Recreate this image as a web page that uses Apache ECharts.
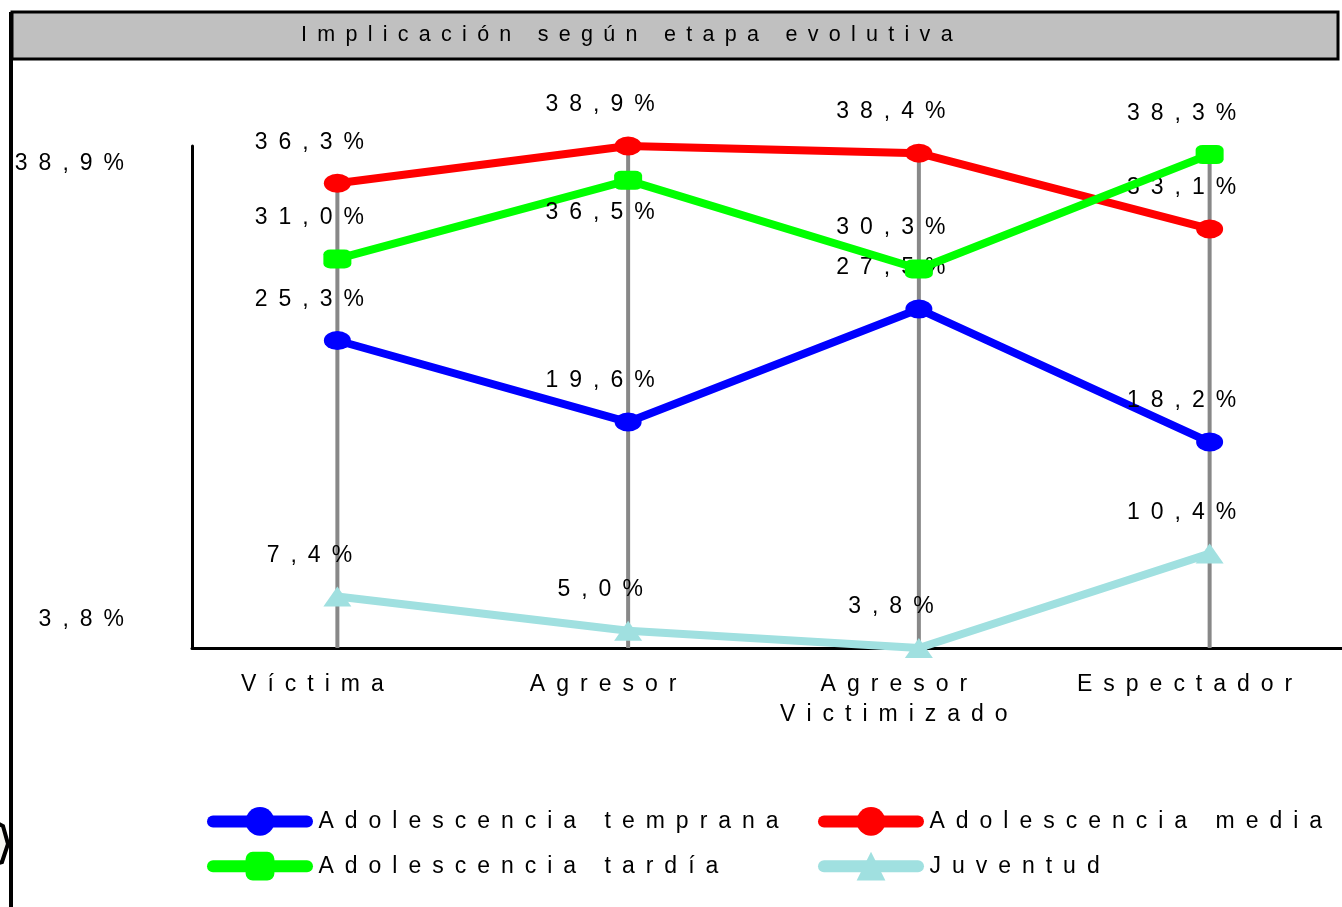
<!DOCTYPE html>
<html>
<head>
<meta charset="utf-8">
<script src="https://cdn.jsdelivr.net/npm/echarts@6/dist/echarts.min.js"></script>
<style>
  html, body { margin: 0; padding: 0; background: #fff; overflow: hidden; }
  #chart { width: 1355px; height: 907px; }
</style>
</head>
<body>
<div id="chart"></div>
<script>
// datos
var categories = ['Víctima', 'Agresor', 'Agresor\nVictimizado', 'Espectador']
var temprana = [25.3, 19.6, 27.5, 18.2]
var media = [36.3, 38.9, 38.4, 33.1]
var tardia = [31.0, 36.5, 30.3, 38.3]
var juventud = [7.4, 5.0, 3.8, 10.4]
var yTicks = [3.8, 38.9]

var FONT = "'Liberation Sans', Arial, sans-serif"

// texto espaciado como en el original
function sp(s) {
  return s.split('\n').map(function(line) {
    return line.split('').join(' \u2009')
  }).join('\n')
}
function pct(v) {
  return v.toFixed(1).replace('.', ',') + '%'
}

var yMin = yTicks[0]
var yMax = yTicks[yTicks.length - 1]

var dropData = categories.map(function(c, i) {
  return [i, Math.max(temprana[i], media[i], tardia[i], juventud[i])]
})

function lineSeries(name, data, color, symbol, size, z, labelOffsets) {
  return {
    name: name,
    type: 'line',
    data: data.map(function(v, i) {
      var item = { value: v }
      if (labelOffsets && labelOffsets[i]) {
        item.label = { offset: labelOffsets[i] }
      }
      return item
    }),
    z: z,
    symbol: symbol,
    symbolSize: size,
    showAllSymbol: true,
    lineStyle: { color: color, width: 8, cap: 'round' },
    itemStyle: { color: color, borderWidth: 0 },
    label: {
      show: true,
      position: 'inside',
      offset: [-28, -41],
      color: '#000',
      fontSize: 23,
      fontFamily: FONT,
      formatter: function(p) { return sp(pct(p.value)) }
    },
    emphasis: { disabled: true }
  }
}

function legendAt(names, left) {
  return {
    data: names,
    orient: 'vertical',
    left: left,
    top: 802,
    itemWidth: 94,
    itemHeight: 36,
    itemGap: 16,
    selectedMode: false,
    lineStyle: { width: 12, cap: 'round' },
    formatter: function(n) { return ' ' + sp(n) },
    textStyle: { fontSize: 23, color: '#000', fontFamily: FONT }
  }
}

var chart = echarts.init(document.getElementById('chart'))

var option = {
  animation: false,
  backgroundColor: '#fff',
  title: {
    text: sp('Implicación según etapa evolutiva'),
    left: 296,
    top: 19,
    textStyle: { fontSize: 21.5, fontWeight: 'normal', color: '#000', fontFamily: FONT }
  },
  graphic: [
    {
      type: 'rect',
      shape: { x: 12, y: 12, width: 1326, height: 47 },
      style: { fill: '#c0c0c0', stroke: '#000', lineWidth: 3 },
      z: -1
    },
    {
      type: 'line',
      shape: { x1: 11, y1: 12, x2: 11, y2: 907 },
      style: { stroke: '#000', lineWidth: 4 },
      z: 0
    },
    {
      type: 'polygon',
      shape: { points: [[-12, 818], [3, 826], [8, 844], [2, 862], [-12, 866]] },
      style: { fill: '#f4f4f0', stroke: '#000', lineWidth: 4 },
      z: 0
    }
  ],
  legend: [
    legendAt(['Adolescencia temprana', 'Adolescencia tardía'], 202),
    legendAt(['Adolescencia media', 'Juventud'], 813)
  ],
  grid: {
    left: 192,
    right: 0,
    top: 146,
    bottom: 259,
    containLabel: false
  },
  xAxis: {
    type: 'category',
    data: categories,
    boundaryGap: true,
    axisLine: { show: true, lineStyle: { color: '#000', width: 3 } },
    axisTick: { show: false },
    axisLabel: {
      margin: 22,
      fontSize: 23,
      lineHeight: 30,
      color: '#000',
      fontFamily: FONT,
      padding: [0, 50, 0, 0],
      interval: 0,
      formatter: function(v) { return sp(v) }
    },
    splitLine: { show: false }
  },
  yAxis: {
    type: 'value',
    min: yMin,
    max: yMax,
    axisLine: { show: true, lineStyle: { color: '#000', width: 3 } },
    axisTick: { show: false },
    splitLine: { show: false },
    axisLabel: {
      customValues: yTicks,
      margin: 68,
      color: '#000',
      fontSize: 23,
      fontFamily: FONT,
      formatter: function(v) {
        return v >= yMax ? '{hi|' + sp(pct(v)) + '}' : '{lo|' + sp(pct(v)) + '}'
      },
      rich: {
        hi: { fontSize: 23, fontFamily: FONT, color: '#000', padding: [36, 0, 0, 0] },
        lo: { fontSize: 23, fontFamily: FONT, color: '#000', padding: [0, 0, 56, 0] }
      }
    }
  },
  series: [
    {
      name: 'drop',
      type: 'custom',
      z: 1,
      silent: true,
      data: dropData,
      encode: { x: 0, y: 1 },
      renderItem: function(params, api) {
        var top = api.coord([api.value(0), api.value(1)])
        var bottom = api.coord([api.value(0), yMin])
        return {
          type: 'line',
          shape: { x1: top[0], y1: top[1], x2: bottom[0], y2: bottom[1] },
          style: { stroke: '#888888', lineWidth: 4 }
        }
      }
    },
    lineSeries('Adolescencia temprana', temprana, '#0000ff', 'circle', [27, 19], 2),
    lineSeries('Adolescencia media', media, '#ff0000', 'circle', [27, 19], 3),
    lineSeries('Adolescencia tardía', tardia, '#00ff00', 'roundRect', [28, 19], 4, [null, [-28, 32], null, null]),
    lineSeries('Juventud', juventud, '#a0e0e0', 'triangle', [28, 20], 5)
  ]
}

chart.setOption(option)
</script>
</body>
</html>
